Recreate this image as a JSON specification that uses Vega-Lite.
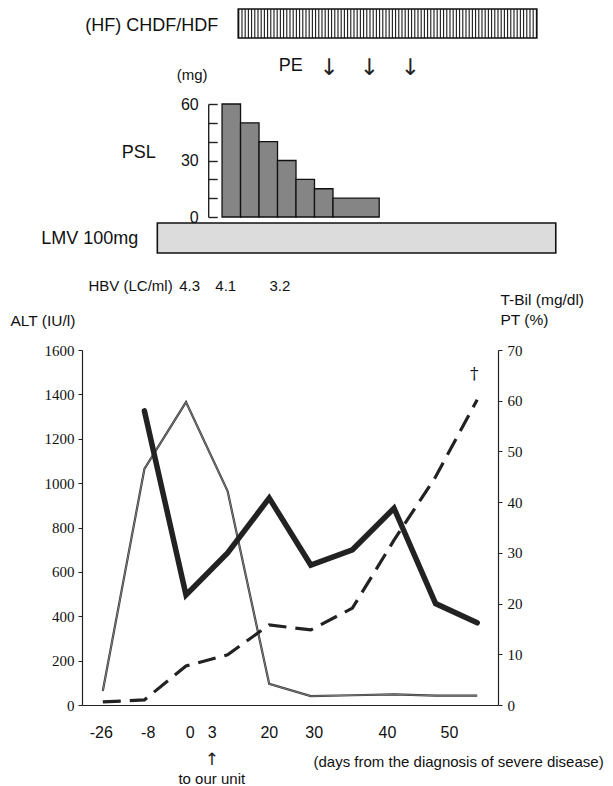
{
  "$schema": "https://vega.github.io/schema/vega-lite/v6.json",
  "padding": {"top": 8, "left": 10, "right": 5, "bottom": 5},
  "spacing": 6,
  "bounds": "flush",
  "config": {
    "view": {"stroke": null},
    "font": "Liberation Sans",
    "axis": {"grid": false, "domainColor": "#222", "tickColor": "#222", "labelColor": "#111", "titleColor": "#111", "titleFontWeight": "normal", "labelFont": "Liberation Sans", "titleFont": "Liberation Sans"},
    "text": {"font": "Liberation Sans", "color": "#111"}
  },
  "datasets": {
    "hf": [{"therapy": "(HF) CHDF/HDF", "start": 6.5, "end": 71.1}],
    "pe": [{"procedure": "PE", "day": 26.1}, {"procedure": "PE", "day": 34.8}, {"procedure": "PE", "day": 43.7}],
    "psl": [
      {"start": 3, "end": 7, "dose": 60},
      {"start": 7, "end": 11, "dose": 50},
      {"start": 11, "end": 15, "dose": 40},
      {"start": 15, "end": 19, "dose": 30},
      {"start": 19, "end": 23, "dose": 20},
      {"start": 23, "end": 27, "dose": 15},
      {"start": 27, "end": 37, "dose": 10}
    ],
    "lmv": [{"drug": "LMV 100mg", "start": -11, "end": 75.2}],
    "hbv": [{"day": -4, "hbv": 4.3}, {"day": 3.8, "hbv": 4.1}, {"day": 15.5, "hbv": 3.2}],
    "labs": [
      {"i": 0, "ALT": 63, "PT": null, "TBil": 0.6},
      {"i": 1, "ALT": 1064, "PT": 58, "TBil": 1.0},
      {"i": 2, "ALT": 1365, "PT": 21.7, "TBil": 7.7},
      {"i": 3, "ALT": 964, "PT": 30, "TBil": 9.9},
      {"i": 4, "ALT": 95, "PT": 40.8, "TBil": 15.8},
      {"i": 5, "ALT": 40, "PT": 27.6, "TBil": 14.8},
      {"i": 6, "ALT": 44, "PT": 30.6, "TBil": 19.1},
      {"i": 7, "ALT": 48, "PT": 38.8, "TBil": 32.5},
      {"i": 8, "ALT": 42, "PT": 20, "TBil": 45},
      {"i": 9, "ALT": 42, "PT": 16.2, "TBil": 60.2, "death": "†"}
    ]
  },
  "vconcat": [
    {
      "width": 416, "height": 29,
      "data": {"name": "hf"},
      "encoding": {
        "x": {"field": "start", "type": "quantitative", "scale": {"domain": [-27.3, 62.7], "nice": false, "zero": false}, "axis": null},
        "y": {"field": "therapy", "type": "nominal", "scale": {"paddingInner": 0, "paddingOuter": 0}, "axis": null}
      },
      "layer": [
        {"mark": {"type": "rule", "strokeWidth": 29, "strokeDash": [1.1, 2.1], "color": "#1a1a1a"}, "encoding": {"x2": {"field": "end"}}},
        {"mark": {"type": "rect", "filled": false, "stroke": "#111", "strokeWidth": 1.6}, "encoding": {"x2": {"field": "end"}}},
        {"mark": {"type": "text", "align": "right", "dx": -20, "dy": 2, "fontSize": 18}, "encoding": {"text": {"field": "therapy"}}}
      ]
    },
    {
      "width": 416, "height": 54,
      "data": {"name": "pe"},
      "encoding": {
        "x": {"field": "day", "type": "quantitative", "scale": {"domain": [-27.3, 62.7], "nice": false, "zero": false}, "axis": null}
      },
      "layer": [
        {"mark": {"type": "text", "text": "↓", "font": "DejaVu Sans", "fontSize": 23, "color": "#222", "dy": -3}},
        {"mark": {"type": "text", "align": "right", "dx": -26, "dy": -5, "fontSize": 18}, "encoding": {"x": {"aggregate": "min", "field": "day", "type": "quantitative"}, "text": {"field": "procedure"}}},
        {"data": {"values": [{"unit": "(mg)", "day": 0}]}, "mark": {"type": "text", "fontSize": 15, "dx": -16, "dy": 4}, "encoding": {"text": {"field": "unit"}}}
      ]
    },
    {
      "width": 416, "height": 113,
      "data": {"name": "psl"},
      "mark": {"type": "rect", "fill": "#858585", "stroke": "#111", "strokeWidth": 1.3},
      "encoding": {
        "x": {"field": "start", "type": "quantitative", "scale": {"domain": [-27.3, 62.7], "nice": false, "zero": false}, "axis": null},
        "x2": {"field": "end"},
        "y": {"field": "dose", "type": "quantitative", "scale": {"domain": [0, 60], "nice": false},
          "axis": {"orient": "left", "offset": -126.2, "values": [0, 10, 20, 30, 40, 50, 60], "labelExpr": "datum.value % 30 === 0 ? datum.label : ''", "tickSize": -9, "tickWidth": 1.4, "domainWidth": 1.4, "labelPadding": 19, "labelFontSize": 16, "labelOverlap": false, "title": "PSL", "titleAngle": 0, "titleAlign": "center", "titleBaseline": "middle", "titleX": -70, "titleY": 48, "titleFontSize": 18}},
        "y2": {"datum": 0}
      }
    },
    {
      "width": 416, "height": 30,
      "data": {"name": "lmv"},
      "encoding": {
        "x": {"field": "start", "type": "quantitative", "scale": {"domain": [-27.3, 62.7], "nice": false, "zero": false}, "axis": null},
        "y": {"field": "drug", "type": "nominal", "scale": {"paddingInner": 0, "paddingOuter": 0}, "axis": null}
      },
      "layer": [
        {"mark": {"type": "rect", "fill": "#dcdcdc", "stroke": "#111", "strokeWidth": 1.6}, "encoding": {"x2": {"field": "end"}}},
        {"mark": {"type": "text", "align": "right", "dx": -19, "dy": 1, "fontSize": 18}, "encoding": {"text": {"field": "drug"}}}
      ]
    },
    {
      "width": 416, "height": 85,
      "data": {"name": "hbv"},
      "encoding": {
        "x": {"field": "day", "type": "quantitative", "scale": {"domain": [-27.3, 62.7], "nice": false, "zero": false}, "axis": null}
      },
      "layer": [
        {"mark": {"type": "text", "fontSize": 15, "dy": -15.5}, "encoding": {"text": {"field": "hbv", "type": "quantitative", "format": ".1f"}}},
        {"mark": {"type": "text", "align": "right", "fontSize": 15, "dx": -17, "dy": -15.5, "text": "HBV (LC/ml)"}, "encoding": {"x": {"aggregate": "min", "field": "day", "type": "quantitative"}}}
      ]
    },
    {
      "width": 416, "height": 355,
      "data": {"name": "labs"},
      "encoding": {
        "x": {"field": "i", "type": "quantitative", "scale": {"domain": [-0.5, 9.5], "nice": false, "zero": false},
          "axis": {"values": [-0.05, 1.08, 2.09, 2.62, 3.99, 5.07, 6.83, 8.32], "labelExpr": "datum.value < 0 ? '-26' : datum.value < 1.5 ? '-8' : datum.value < 2.3 ? '0' : datum.value < 3 ? '3' : datum.value < 4.5 ? '20' : datum.value < 6 ? '30' : datum.value < 7.5 ? '40' : '50'", "ticks": false, "labelPadding": 19, "labelFontSize": 16, "labelFlush": false, "labelOverlap": false, "domainWidth": 1.2, "title": "(days from the diagnosis of severe disease)", "titleX": 231, "titleY": 56, "titleAlign": "left", "titleBaseline": "middle", "titleFontSize": 15}}
      },
      "layer": [
        {
          "layer": [
            {"mark": {"type": "line", "color": "#333", "strokeWidth": 2.2},
             "encoding": {"y": {"field": "ALT", "type": "quantitative", "scale": {"domain": [0, 1600], "nice": false},
               "axis": {"orient": "left", "values": [0, 200, 400, 600, 800, 1000, 1200, 1400, 1600], "format": "d", "tickSize": 4, "labelPadding": 4, "labelFont": "Liberation Serif", "labelFontSize": 15, "labelOverlap": false, "domainWidth": 1.2, "title": "ALT (IU/l)", "titleAngle": 0, "titleAlign": "left", "titleBaseline": "middle", "titleX": -72, "titleY": -30, "titleFontSize": 15.5}}}},
            {"mark": {"type": "line", "color": "#b0b0b0", "strokeWidth": 0.6},
             "encoding": {"y": {"field": "ALT", "type": "quantitative"}}},
            {"data": {"values": [{"arrow": "↑", "note": "to our unit", "i": 2.62, "ALT": 0}]},
             "mark": {"type": "text", "font": "DejaVu Sans", "fontSize": 17, "color": "#222", "baseline": "middle", "dy": 55},
             "encoding": {"x": {"field": "i", "type": "quantitative"}, "y": {"field": "ALT", "type": "quantitative"}, "text": {"field": "arrow"}}},
            {"data": {"values": [{"arrow": "↑", "note": "to our unit", "i": 2.62, "ALT": 0}]},
             "mark": {"type": "text", "fontSize": 15, "baseline": "middle", "dy": 74},
             "encoding": {"x": {"field": "i", "type": "quantitative"}, "y": {"field": "ALT", "type": "quantitative"}, "text": {"field": "note"}}}
          ]
        },
        {
          "layer": [
            {"mark": {"type": "line", "color": "#222", "strokeWidth": 5.5, "strokeCap": "round"},
             "encoding": {"y": {"field": "PT", "type": "quantitative", "scale": {"domain": [0, 70], "nice": false},
               "axis": {"orient": "right", "values": [0, 10, 20, 30, 40, 50, 60, 70], "tickSize": 4, "labelPadding": 5, "labelFont": "Liberation Serif", "labelFontSize": 15, "labelOverlap": false, "domainWidth": 1.2, "title": ["T-Bil (mg/dl)", "PT (%)"], "titleAngle": 0, "titleAlign": "left", "titleBaseline": "top", "titleX": 2, "titleY": -58, "titleLineHeight": 20, "titleFontSize": 15.5}}}},
            {"mark": {"type": "line", "color": "#222", "strokeWidth": 3.2, "strokeDash": [18, 9]},
             "encoding": {"y": {"field": "TBil", "type": "quantitative"}}},
            {"transform": [{"filter": "datum.death"}],
             "mark": {"type": "text", "font": "DejaVu Serif", "fontSize": 17, "color": "#111", "dy": -26, "dx": -3},
             "encoding": {"y": {"field": "TBil", "type": "quantitative"}, "text": {"field": "death"}}}
          ]
        }
      ],
      "resolve": {"scale": {"y": "independent"}}
    }
  ]
}
